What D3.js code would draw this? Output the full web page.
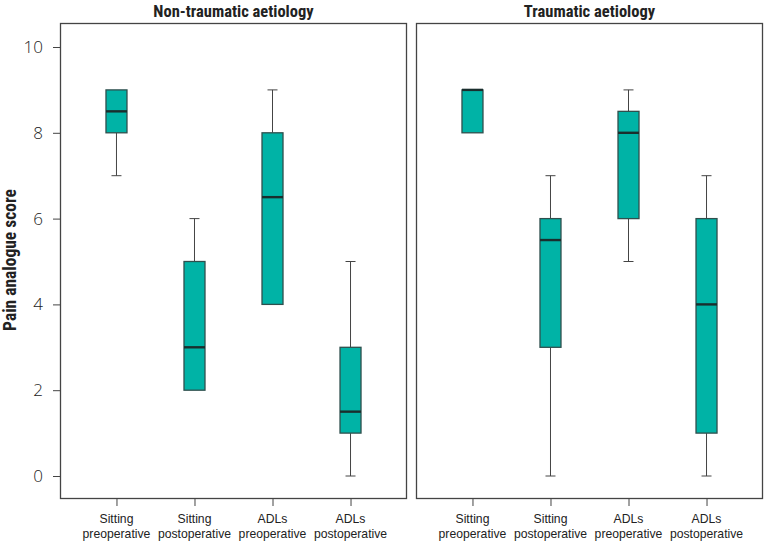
<!DOCTYPE html>
<html><head><meta charset="utf-8">
<script src="https://cdn.jsdelivr.net/npm/d3@7"></script>
<style>
body{margin:0;background:#fff;}
text{fill:#222;}
.cond{font-family:"Liberation Sans Narrow","Roboto Condensed","Arial Narrow",sans-serif;font-weight:bold;}
.ytick{font-family:"Open Sans","Lato",sans-serif;font-weight:300;}
.xlab{font-family:"Liberation Sans Narrow","Arial Narrow",sans-serif;font-weight:normal;}
</style></head>
<body><svg id="c" width="765" height="542"></svg>
<script>
const categories = ["Sitting\npreoperative","Sitting\npostoperative","ADLs\npreoperative","ADLs\npostoperative"];
const panels = ["Non-traumatic aetiology","Traumatic aetiology"];
const yTicks = [0,2,4,6,8,10];
// [min, q1, median, q3, max]
const nonTraumatic = [[7,8,8.5,9,9],[2,2,3,5,6],[4,4,6.5,8,9],[0,1,1.5,3,5]];
const traumatic = [[8,8,9,9,9],[0,3,5.5,6,7],[5,6,8,8.5,9],[0,1,4,6,7]];
const data = [nonTraumatic, traumatic];

const svg = d3.select("#c");
const panelTop = 23, panelBottom = 499;
const panelX = [[60,407],[416,763]];
const y = d3.scaleLinear().domain([0,10]).range([476,47]);
const boxW = 21;

panels.forEach((title,pi)=>{
  const [x0,x1] = panelX[pi];
  const x = d3.scalePoint().domain(categories).range([x0,x1]).padding(0.724);
  const g = svg.append("g");
  g.append("text").attr("class","cond").attr("x",(x0+x1)/2).attr("y",17)
    .attr("text-anchor","middle").attr("font-size",16.5).text(title);
  g.append("rect").attr("x",x0+0.5).attr("y",panelTop+0.5).attr("width",x1-x0-1).attr("height",panelBottom-panelTop-1)
    .attr("fill","none").attr("stroke","#444").attr("stroke-width",1.3);
  const xa = g.append("g").attr("transform",`translate(0,${panelBottom})`)
    .call(d3.axisBottom(x).tickSizeOuter(0).tickSizeInner(7).tickFormat(""));
  xa.select(".domain").remove();
  xa.selectAll("line").attr("stroke","#444");
  categories.forEach(c=>{
    const t = g.append("text").attr("class","xlab").attr("x",x(c)).attr("y",523)
      .attr("text-anchor","middle").attr("font-size",12.2);
    c.split("\n").forEach((s,i)=>t.append("tspan").attr("x",x(c)).attr("dy",i?15:0).text(s));
  });
  data[pi].forEach((d,i)=>{
    const cx = x(categories[i]);
    const [mn,q1,md,q3,mx] = d;
    const bg = g.append("g");
    if (mx>q3){
      bg.append("line").attr("x1",cx).attr("x2",cx).attr("y1",y(q3)).attr("y2",y(mx)).attr("stroke","#444");
      bg.append("line").attr("x1",cx-5).attr("x2",cx+5).attr("y1",y(mx)).attr("y2",y(mx)).attr("stroke","#444");
    }
    if (mn<q1){
      bg.append("line").attr("x1",cx).attr("x2",cx).attr("y1",y(q1)).attr("y2",y(mn)).attr("stroke","#444");
      bg.append("line").attr("x1",cx-5).attr("x2",cx+5).attr("y1",y(mn)).attr("y2",y(mn)).attr("stroke","#444");
    }
    bg.append("rect").attr("x",cx-boxW/2).attr("y",y(q3)).attr("width",boxW).attr("height",y(q1)-y(q3))
      .attr("fill","#00b3a6").attr("stroke","#2f4f4d").attr("stroke-width",1.3);
    bg.append("line").attr("x1",cx-boxW/2).attr("x2",cx+boxW/2).attr("y1",y(md)).attr("y2",y(md))
      .attr("stroke","#1a2e2d").attr("stroke-width",2.4);
  });
});

const ya = svg.append("g").attr("transform","translate(60,0)").attr("color","#222")
  .call(d3.axisLeft(y).tickValues(yTicks).tickSize(7).tickPadding(10));
ya.select(".domain").remove();
ya.selectAll("line").attr("stroke","#444");
ya.selectAll("text").attr("class","ytick").attr("font-size",17).attr("fill","#333");

svg.append("text").attr("class","cond").attr("transform","translate(16,260) rotate(-90)")
  .attr("text-anchor","middle").attr("font-size",17.5).text("Pain analogue score");
</script></body></html>
